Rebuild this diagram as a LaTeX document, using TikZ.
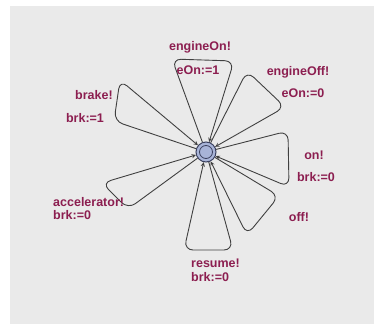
\documentclass[tikz,border=0pt]{standalone}
\usepackage{fontspec}
\setmainfont{Liberation Sans}
\definecolor{lblcol}{RGB}{140,30,80}
\definecolor{bgcol}{RGB}{234,234,234}
\definecolor{statefill}{RGB}{168,180,216}
\definecolor{statedraw}{RGB}{60,66,96}
\tikzset{
    lbl/.style={text=lblcol, font=\fontsize{12.5}{14}\selectfont\bfseries, inner sep=0pt},
    loopline/.style={draw=black!75, line width=0.9pt, rounded corners=9pt, ->, >=stealth}
}

\begin{document}
\begin{tikzpicture}[x=1pt,y=-1pt]
    % Draw background
    \useasboundingbox (0,0) rectangle (374,324);
    \fill[bgcol] (10,6) rectangle (374,324);

    % Draw the state
    \node[circle, draw=statedraw, fill=statefill, line width=1pt, minimum size=20pt, inner sep=0pt] (init) at (206,152) {};
    \draw[statedraw, line width=0.8pt] (init.center) circle (6.5pt);

    % Corners of the self loops
    \coordinate (eon1) at (172,59);
    \coordinate (eon2) at (234,61);
    \coordinate (eoff1) at (247,71);
    \coordinate (eoff2) at (285,107);
    \coordinate (on1) at (288,131);
    \coordinate (on2) at (289,187);
    \coordinate (off1) at (279,196);
    \coordinate (off2) at (247,235);
    \coordinate (res1) at (233,250);
    \coordinate (res2) at (184,250);
    \coordinate (acc1) at (128,209);
    \coordinate (acc2) at (102,183);
    \coordinate (brk1) at (114,121);
    \coordinate (brk2) at (120,80);

    % Draw self loops
    \draw[loopline] (init) -- (eon1) -- (eon2) -- (init);
    \draw[loopline] (init) -- (eoff1) -- (eoff2) -- (init);
    \draw[loopline] (init) -- (on1) -- (on2) -- (init);
    \draw[loopline] (init) -- (off1) -- (off2) -- (init);
    \draw[loopline] (init) -- (res1) -- (res2) -- (init);
    \draw[loopline] (init) -- (acc1) -- (acc2) -- (init);
    \draw[loopline] (init) -- (brk1) -- (brk2) -- (init);

    % Add labels
    \node[lbl] (l1) at (200,47) {engineOn!};
    \node[lbl] (l2) at (198,70) {eOn:=1};
    \node[lbl] (l3) at (298,72) {engineOff!};
    \node[lbl] (l4) at (303,93) {eOn:=0};
    \node[lbl] (l5) at (94,95) {brake!};
    \node[lbl] (l6) at (85,118) {brk:=1};
    \node[lbl] (l7) at (314,155) {on!};
    \node[lbl] (l8) at (316,177) {brk:=0};
    \node[lbl] (l9) at (299,217) {off!};
    \node[lbl, anchor=west] (l10) at (53,202) {accelerator!};
    \node[lbl, anchor=west] (l11) at (53,215) {brk:=0};
    \node[lbl, anchor=west] (l12) at (191,263) {resume!};
    \node[lbl, anchor=west] (l13) at (191,277) {brk:=0};
\end{tikzpicture}
\end{document}
